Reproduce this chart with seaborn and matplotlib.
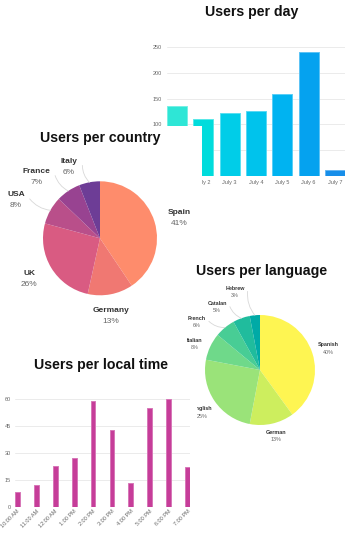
import numpy as np
import matplotlib
matplotlib.use("Agg")
import matplotlib.pyplot as plt
from matplotlib.patches import Rectangle
from matplotlib.colors import to_rgb
import seaborn as sns
import pandas as pd

# ---------------- data ----------------
days = ["July 1", "July 2", "July 3", "July 4", "July 5", "July 6", "July 7"]
day_users = [135, 111, 122, 126, 158, 241, 12]
day_ticks = [0, 50, 100, 150, 200, 250]

countries = ["Spain", "Germany", "UK", "USA", "France", "Italy"]
country_users = [41, 13, 26, 8, 7, 6]

languages = ["Spanish", "German", "English", "Italian", "French", "Catalan", "Hebrew"]
language_users = [40, 13, 25, 8, 6, 5, 3]

hours = ["10:00 AM", "11:00 AM", "12:00 AM", "1:00 PM", "2:00 PM",
         "3:00 PM", "4:00 PM", "5:00 PM", "6:00 PM", "7:00 PM"]
hour_users = [8, 12, 23, 27, 59, 43, 13, 55, 60, 22]
hour_ticks = [0, 15, 30, 45, 60]

titles = ["Users per day", "Users per country", "Users per language", "Users per local time"]

# ---------------- styles ----------------
day_colors = ["#2ee6d6", "#00dcdc", "#00cde8", "#00c3ec", "#00b3f1", "#05a2ef", "#178ee9"]
country_colors = ["#fe8c6c", "#f07872", "#d95b82", "#b94f8a", "#984391", "#6d3d96"]
language_colors = ["#fef552", "#cdee5e", "#9ae379", "#6fd98a", "#48cd95", "#20bc9d", "#00aaa6"]
hour_color = "#c63d99"
grid_color = "#ebebeb"
tick_color = "#666666"

# label placement (angle in degrees, distance in pie radii) and leader flags
country_label_pos = [(15.4, 1.44), (-81.8, 1.35), (-151.1, 1.42), (154.9, 1.63), (135.5, 1.57), (113.1, 1.39)]
country_leaders = [False, False, False, True, True, True]
language_label_pos = [(17.8, 1.31), (-76.4, 1.23), (-143.9, 1.29), (158.0, 1.28), (142.4, 1.45), (124.1, 1.39), (107.7, 1.50)]
language_leaders = [False, False, False, False, True, True, True]

sns.set_theme(style="white")
plt.rcParams["font.family"] = ["Liberation Sans", "DejaVu Sans"]

W, H = 351, 550
fig = plt.figure(figsize=(W / 100, H / 100), dpi=100)
fig.patch.set_facecolor("white")


def box(l, t, r, b):
    return [l / W, 1 - b / H, (r - l) / W, (b - t) / H]


def lighten(c, f=0.3):
    r, g, b = to_rgb(c)
    return (r + (1 - r) * f, g + (1 - g) * f, b + (1 - b) * f)


def style_bar_axes(ax, ticks, xpad, ypad):
    sns.despine(ax=ax, left=True, bottom=True)
    ax.set_yticks(ticks)
    ax.yaxis.grid(True, color=grid_color, linewidth=0.7)
    ax.xaxis.grid(False)
    ax.set_axisbelow(True)
    ax.set_xlabel("")
    ax.set_ylabel("")
    ax.tick_params(axis="both", length=0, labelsize=4, colors=tick_color)
    ax.tick_params(axis="x", pad=xpad)
    ax.tick_params(axis="y", pad=ypad)
    ax.set_facecolor("none")


# ---------------- Users per day ----------------
ax_day = fig.add_axes(box(167, 41.8, 345, 176), zorder=0)
df_day = pd.DataFrame({"day": days, "users": day_users})
sns.barplot(data=df_day, x="day", y="users", hue="day", palette=day_colors,
            legend=False, saturation=1, width=0.76, ax=ax_day, linewidth=0.7)
for p, c in zip(ax_day.patches, day_colors):
    p.set_edgecolor(lighten(c, 0.35))
ax_day.set_xlim(-0.38, len(days) - 1 + 0.38)
ax_day.set_ylim(0, 260)
style_bar_axes(ax_day, day_ticks, 3.2, 3.6)
fig.text(252 / W, 1 - 16 / H, titles[0], ha="center", va="baseline",
         fontsize=10.2, fontweight="bold", color="#111111", zorder=0.5)

# ---------------- country panel background ----------------
fig.add_artist(Rectangle((0, 1 - 330 / H), 202 / W, (330 - 126) / H,
                         transform=fig.transFigure, facecolor="white",
                         edgecolor="none", zorder=1))

renderer = fig.canvas.get_renderer()


def pie_panel(ax, labels, values, colors, label_pos, leaders, r_px, fs, spacing_px, gap_px):
    ax.pie(values, colors=colors, startangle=90, counterclock=False, radius=1,
           wedgeprops=dict(linewidth=0))
    ax.set_xlim(-1, 1)
    ax.set_ylim(-1, 1)
    ax.set_aspect("equal")
    ax.axis("off")
    total = float(sum(values))
    px = 1.0 / r_px
    cap = 0.72 * fs / 72 * 100
    cum = 0.0
    for lab, v, (ang, dist), lead in zip(labels, values, label_pos, leaders):
        mid = np.deg2rad(90 - 360 * (cum + v / 2) / total)
        cum += v
        a = np.deg2rad(ang)
        cx, cy = dist * np.cos(a), dist * np.sin(a)
        t1 = ax.text(cx, cy + (spacing_px / 2 - cap / 2) * px, lab, ha="center",
                     va="baseline", fontsize=fs, fontweight="bold", color="#333333",
                     clip_on=False)
        t2 = ax.text(cx, cy - (spacing_px / 2 + cap / 2) * px,
                     f"{round(100 * v / total)}%", ha="center", va="baseline",
                     fontsize=fs, color="#666666", clip_on=False)
        if lead:
            hw = max(t1.get_window_extent(renderer).width,
                     t2.get_window_extent(renderer).width) / 2
            sign = 1 if cx < 0 else -1
            ex = cx + sign * (hw + gap_px) * px
            ey = cy
            ax.annotate("", xy=(ex, ey), xytext=(np.cos(mid), np.sin(mid)),
                        arrowprops=dict(arrowstyle="-", color="#d8d8d8", lw=0.6,
                                        shrinkA=0, shrinkB=0,
                                        connectionstyle="arc3,rad=-0.2"),
                        annotation_clip=False)


# ---------------- Users per country ----------------
ax_cty = fig.add_axes(box(43, 181.3, 157, 295.3), zorder=2)
pie_panel(ax_cty, countries, country_users, country_colors, country_label_pos,
          country_leaders, 57, 6.0, 11, 5)
fig.text(100 / W, 1 - 142 / H, titles[1], ha="center", va="baseline",
         fontsize=10.2, fontweight="bold", color="#111111", zorder=2)

# ---------------- Users per language ----------------
ax_lang = fig.add_axes(box(205, 315, 315, 425), zorder=2.5)
pie_panel(ax_lang, languages, language_users, language_colors, language_label_pos,
          language_leaders, 55, 3.9, 7.5, 3)
fig.text(262 / W, 1 - 275 / H, titles[2], ha="center", va="baseline",
         fontsize=10.2, fontweight="bold", color="#111111", zorder=2.5)

# ---------------- time panel background ----------------
fig.add_artist(Rectangle((0, 0), 197 / W, (H - 352) / H,
                         transform=fig.transFigure, facecolor="white",
                         edgecolor="none", zorder=3))

# ---------------- Users per local time ----------------
ax_time = fig.add_axes(box(14.7, 395.7, 190.3, 506.7), zorder=4)
df_time = pd.DataFrame({"hour": hours, "users": hour_users})
sns.barplot(data=df_time, x="hour", y="users", color=hour_color, saturation=1,
            width=0.26, ax=ax_time, linewidth=0.7, edgecolor=lighten(hour_color, 0.3))
ax_time.set_xlim(-0.13, len(hours) - 1 + 0.13)
ax_time.set_ylim(0, 62)
style_bar_axes(ax_time, hour_ticks, 1.2, 2.7)
plt.setp(ax_time.get_xticklabels(), rotation=45, ha="right", va="top",
         rotation_mode="anchor")
fig.text(101 / W, 1 - 369 / H, titles[3], ha="center", va="baseline",
         fontsize=10.2, fontweight="bold", color="#111111", zorder=4)

fig.savefig("out.png", dpi=100, facecolor="white")
